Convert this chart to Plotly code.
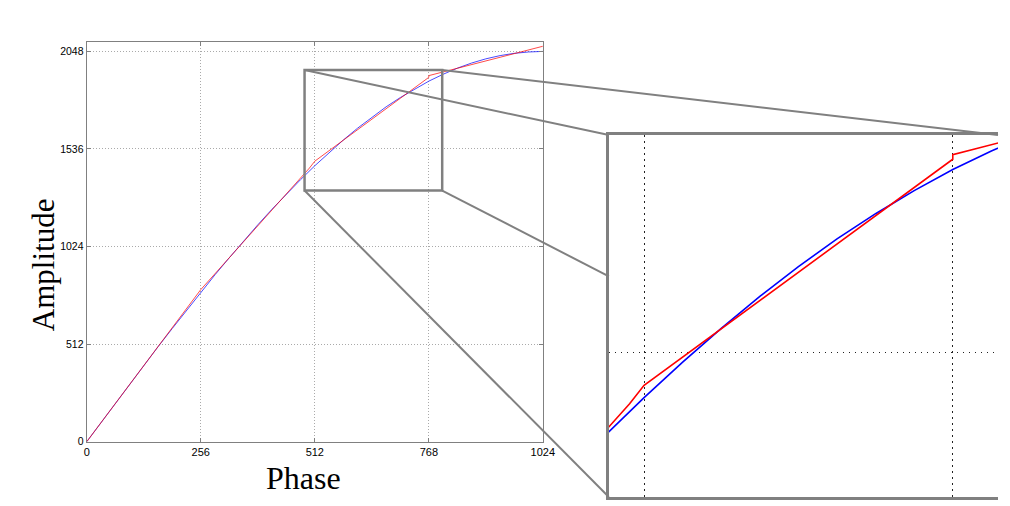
import plotly.graph_objects as go

# ---------------- data ----------------
phase = list(range(0, 1025, 32))
sine_amp = [0, 100, 201, 300, 400, 498, 594, 690, 784, 876, 965, 1053, 1138,
            1220, 1299, 1375, 1448, 1517, 1583, 1645, 1703, 1757, 1806, 1851,
            1892, 1928, 1960, 1987, 2009, 2026, 2038, 2045, 2048]

approx_phase = [0, 256, 500, 512, 768, 768, 1024]
approx_amp = [0, 798, 1436, 1472, 1912, 1921, 2075]

x_ticks = [0, 256, 512, 768, 1024]
y_ticks = [0, 512, 1024, 1536, 2048]
x_ticktext = ["0", "256", "512", "768", "1024"]
y_ticktext = ["0", "512", "1024", "1536", "2048"]

zoom_phase = [489, 798]
zoom_amp = [1318, 1950]
inset_grid_x = [512, 768]
inset_grid_y = [1536]

# ---------------- layout geometry (fractions of a 1010x506 page) ----------------
W, H = 1010, 506
main_dx = [85 / W, 548 / W]
main_dy = [1 - 447 / H, 1 - 42 / H]
main_xr = [0, 1024]
main_yr = [0, 2100]

ins_dx = [615 / W, 1.0]
ins_dy = [1 - 503 / H, 1 - 136.7 / H]
ins_xr = [482.8, 805.5]
ins_yr = [1254.6, 1959]


def to_paper(x, y, dx, dy, xr, yr):
    px = dx[0] + (x - xr[0]) / (xr[1] - xr[0]) * (dx[1] - dx[0])
    py = dy[0] + (y - yr[0]) / (yr[1] - yr[0]) * (dy[1] - dy[0])
    return px, py


GRAY = "#808080"

fig = go.Figure()

# main plot
fig.add_trace(go.Scatter(x=phase, y=sine_amp, mode="lines",
                         line=dict(color="#0000ff", width=1), opacity=0.7,
                         xaxis="x", yaxis="y", hoverinfo="skip"))
fig.add_trace(go.Scatter(x=approx_phase, y=approx_amp, mode="lines",
                         line=dict(color="#ff0000", width=1), opacity=0.7,
                         xaxis="x", yaxis="y", hoverinfo="skip"))
# inset
fig.add_trace(go.Scatter(x=phase, y=sine_amp, mode="lines",
                         line=dict(color="#0000ff", width=1.6),
                         xaxis="x2", yaxis="y2", hoverinfo="skip"))
fig.add_trace(go.Scatter(x=approx_phase, y=approx_amp, mode="lines",
                         line=dict(color="#ff0000", width=1.6),
                         xaxis="x2", yaxis="y2", hoverinfo="skip"))

tickfont = dict(family="Liberation Sans", size=11, color="black")

fig.update_layout(
    autosize=True,
    margin=dict(l=0, r=0, t=0, b=0, pad=0),
    paper_bgcolor="white", plot_bgcolor="white",
    showlegend=False,
    xaxis=dict(domain=main_dx, range=main_xr, tickvals=x_ticks, ticktext=x_ticktext,
               ticks="inside", ticklen=4, tickcolor=GRAY, showline=True,
               linecolor=GRAY, linewidth=1.2, mirror="ticks",
               showgrid=True, gridcolor="#aaaaaa", griddash="1px,2px", gridwidth=1,
               zeroline=False, tickfont=tickfont, anchor="y"),
    yaxis=dict(domain=main_dy, range=main_yr, tickvals=y_ticks, ticktext=y_ticktext,
               ticks="inside", ticklen=4, tickcolor=GRAY, showline=True,
               linecolor=GRAY, linewidth=1.2, mirror="ticks",
               showgrid=True, gridcolor="#aaaaaa", griddash="1px,2px", gridwidth=1,
               zeroline=False, tickfont=dict(family="Liberation Sans", size=10.5, color="black"),
               anchor="x"),
    xaxis2=dict(domain=ins_dx, range=ins_xr, tickvals=inset_grid_x, showticklabels=False,
                ticks="", showline=True, linecolor=GRAY, linewidth=3, mirror=True,
                showgrid=True, gridcolor="#222222", griddash="1.5px,4.5px", gridwidth=1.3,
                zeroline=False, anchor="y2"),
    yaxis2=dict(domain=ins_dy, range=ins_yr, tickvals=inset_grid_y, showticklabels=False,
                ticks="", showline=True, linecolor=GRAY, linewidth=3, mirror=False,
                showgrid=True, gridcolor="#222222", griddash="1.5px,4.5px", gridwidth=1.3,
                zeroline=False, anchor="x2"),
)

# zoom rectangle on main plot
fig.add_shape(type="rect", xref="x", yref="y",
              x0=zoom_phase[0], x1=zoom_phase[1], y0=zoom_amp[0], y1=zoom_amp[1],
              line=dict(color=GRAY, width=2.5), layer="above")

tl = to_paper(zoom_phase[0], zoom_amp[1], main_dx, main_dy, main_xr, main_yr)
tr = to_paper(zoom_phase[1], zoom_amp[1], main_dx, main_dy, main_xr, main_yr)
bl = to_paper(zoom_phase[0], zoom_amp[0], main_dx, main_dy, main_xr, main_yr)
br = to_paper(zoom_phase[1], zoom_amp[0], main_dx, main_dy, main_xr, main_yr)

i_tl = (ins_dx[0], ins_dy[1])
i_tr = (ins_dx[1], ins_dy[1])
i_bl = (ins_dx[0], ins_dy[0])
c_end = to_paper(ins_xr[0], 1684, ins_dx, ins_dy, ins_xr, ins_yr)

for a, b in [(tl, i_tl), (tr, i_tr), (bl, i_bl), (br, c_end)]:
    fig.add_shape(type="line", xref="paper", yref="paper",
                  x0=a[0], y0=a[1], x1=b[0], y1=b[1],
                  line=dict(color=GRAY, width=2), layer="above")

# axis titles
fig.add_annotation(text="Amplitude", xref="paper", yref="paper",
                   x=41 / W, y=1 - 268 / H, xanchor="center", yanchor="middle",
                   textangle=-90, showarrow=False,
                   font=dict(family="Liberation Serif", size=31, color="black"))
fig.add_annotation(text="Phase", xref="paper", yref="paper",
                   x=305 / W, y=1 - 484 / H, xanchor="center", yanchor="middle",
                   showarrow=False,
                   font=dict(family="Liberation Serif", size=32, color="black"))

post = (
    "var s=document.createElement('style');"
    "s.textContent='html,body{margin:0;padding:0;overflow:hidden;}';"
    "document.head.appendChild(s);"
    "var gd=document.getElementById('{plot_id}');"
    "Plotly.Plots.resize(gd);"
)

fig.write_html("out.html", default_width="100vw", default_height="100vh",
               config={"displayModeBar": False, "responsive": True},
               post_script=post)
